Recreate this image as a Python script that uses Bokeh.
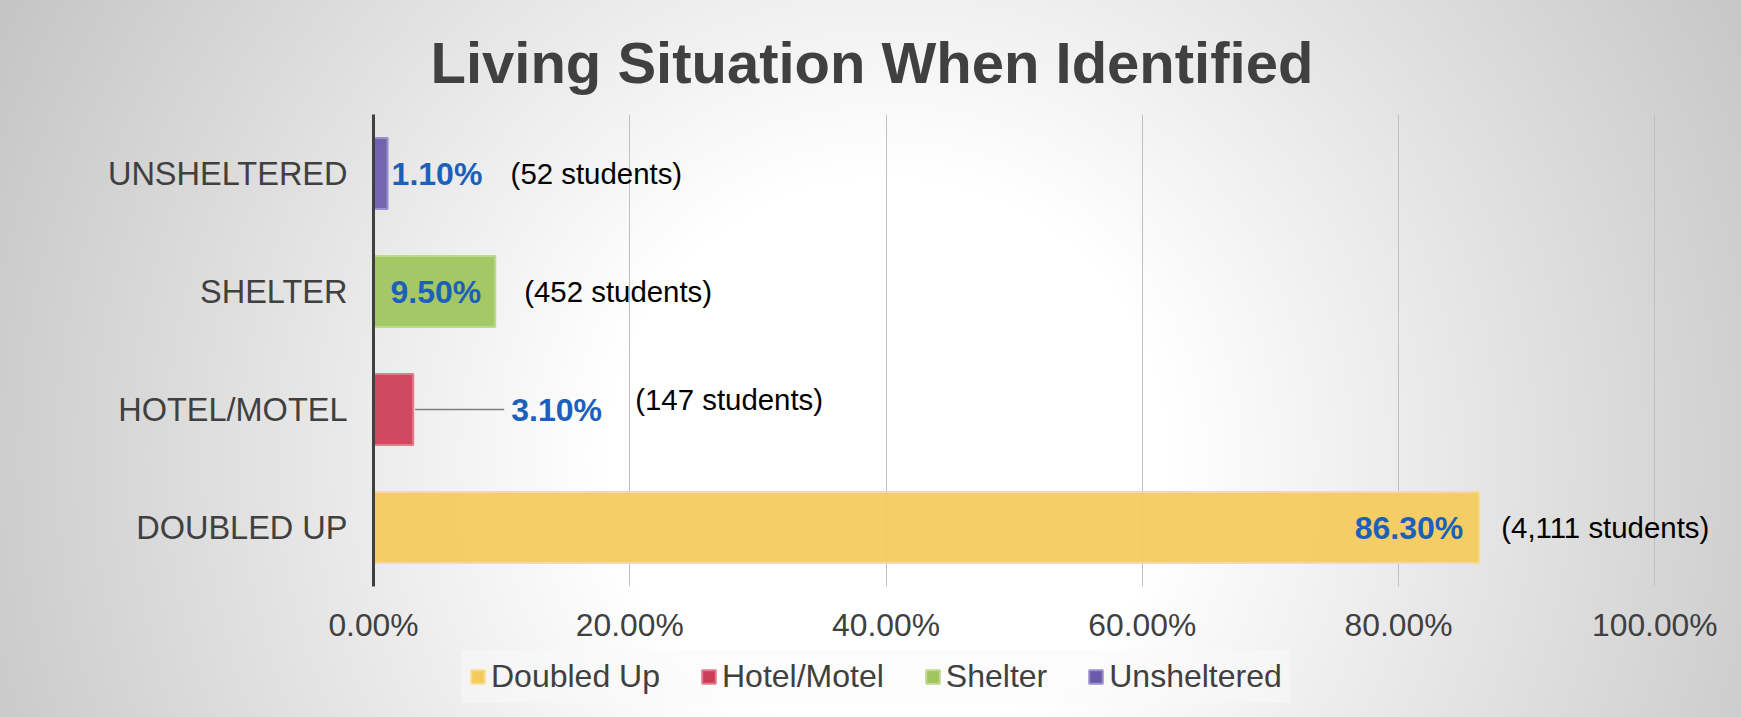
from bokeh.plotting import figure
from bokeh.layouts import column
from bokeh.models import (ColumnDataSource, FactorRange, Range1d, FixedTicker,
                          PrintfTickFormatter, Legend, LegendItem)
from bokeh.core.properties import value
from bokeh.embed import file_html
from bokeh.resources import INLINE

# ---- data ----
categories = ["DOUBLED UP", "HOTEL/MOTEL", "SHELTER", "UNSHELTERED"]
series = ["Doubled Up", "Hotel/Motel", "Shelter", "Unsheltered"]
percents = [86.3, 3.1, 9.5, 1.1]
students = [4111, 147, 452, 52]
x_ticks = [0, 20, 40, 60, 80, 100]

# ---- styles ----
fills = ["#F4CB5A", "#CC3D56", "#9FC55C", "#6A5AAC"]
edges = ["#F8DC90", "#E27C8C", "#BCD98E", "#9C90CC"]
pct_align = ["right", "left", "right", "left"]
pct_dx = [-16, 98, -14, 4]
stu_dx = [22, 222, 29, 123]
stu_dy = [0, -10, 0, 0]
FONT = "Liberation Sans"
DARK = "#404040"
BLUE = "#1C60BA"
X_END = 106.3  # frame extends a little past 100% so that outer labels are not clipped

src = ColumnDataSource(dict(
    cat=categories, series=series, pct=percents, fill=fills, edge=edges,
    pct_text=[f"{v:.2f}%" for v in percents],
    stu_text=[f"({n:,} students)" for n in students],
    pct_align=pct_align, pct_dx=pct_dx, stu_dx=stu_dx, stu_dy=stu_dy,
))

p = figure(width=1741, height=645,
           y_range=FactorRange(*categories, range_padding=0),
           x_range=Range1d(0, X_END),
           output_backend="svg", toolbar_location=None,
           min_border_left=373, min_border_right=6,
           min_border_top=114, min_border_bottom=57)

p.border_fill_alpha = 0
p.background_fill_alpha = 0
p.outline_line_color = None

p.title.text = "Living Situation When Identified"
p.title.text_font = FONT
p.title.text_font_size = "58px"
p.title.text_font_style = "bold"
p.title.text_color = DARK
p.title.align = "left"
p.title.offset = 57
p.title.standoff = 39

bars = p.hbar(y="cat", right="pct", left=0, height=0.6, source=src,
              fill_color="fill", fill_alpha=0.93, line_color="edge", line_width=2)

# leader line for the small Hotel/Motel bar
LEADER_END = 10.2
p.segment(x0=[percents[1] + 0.15], y0=[categories[1]], x1=[LEADER_END], y1=[categories[1]],
          line_color="#7f7f7f", line_width=1.6)

p.text(x="pct", y="cat", text="pct_text", source=src, text_align="pct_align",
       x_offset="pct_dx", text_baseline="middle", text_font=value(FONT),
       text_font_size="32px", text_font_style="bold", text_color=BLUE)

p.text(x="pct", y="cat", text="stu_text", source=src, text_align="left",
       x_offset="stu_dx", y_offset="stu_dy", text_baseline="middle", text_font=value(FONT),
       text_font_size="29.4px", text_color="#000000")

# axes
p.xaxis.ticker = FixedTicker(ticks=x_ticks)
p.xaxis.formatter = PrintfTickFormatter(format="%.2f%%")
p.xaxis.axis_line_color = None
p.xaxis.major_tick_line_color = None
p.xaxis.minor_tick_line_color = None
p.xaxis.major_label_text_font = FONT
p.xaxis.major_label_text_font_size = "31.8px"
p.xaxis.major_label_text_color = DARK
p.xaxis.major_label_standoff = 14

p.yaxis.axis_line_color = DARK
p.yaxis.axis_line_width = 3
p.yaxis.major_tick_line_color = None
p.yaxis.minor_tick_line_color = None
p.yaxis.major_label_text_font = FONT
p.yaxis.major_label_text_font_size = "32.5px"
p.yaxis.major_label_text_color = DARK
p.yaxis.major_label_standoff = 20

p.xgrid.ticker = FixedTicker(ticks=x_ticks)
p.xgrid.grid_line_color = "#c0c0c0"
p.xgrid.grid_line_width = 1
p.ygrid.grid_line_color = None

# ---- legend strip below the chart (frame is aligned with the chart's frame) ----
q = figure(width=1741, height=72, x_range=Range1d(0, X_END),
           y_range=FactorRange(*categories, range_padding=0),
           output_backend="svg", toolbar_location=None, min_border=0,
           x_axis_location=None, y_axis_location=None)
q.grid.visible = False
q.outline_line_color = None
q.border_fill_alpha = 0
q.background_fill_alpha = 0
swatch = q.hbar(y="cat", right="pct", left=0, height=0.6, source=src,
                fill_color="fill", line_color="edge", line_width=2, visible=False)
legend = Legend(items=[LegendItem(label=value(s), renderers=[swatch], index=i)
                       for i, s in enumerate(series)],
                location=(88, 14), orientation="horizontal",
                label_text_font=FONT, label_text_font_size="32px", label_text_color=DARK,
                glyph_width=17, glyph_height=17, label_standoff=5, spacing=40,
                padding=8, margin=0, border_line_alpha=0, inactive_fill_alpha=0,
                background_fill_color="#fafafa", background_fill_alpha=0.5)
q.add_layout(legend)

page = column(p, q, spacing=0)
page.styles = {"background": "radial-gradient(circle 1000px at 51% 64%, #ffffff 0%, #ffffff 28%, #c4c4c4 100%)"}

open("out.html", "w").write(file_html(page, INLINE))
